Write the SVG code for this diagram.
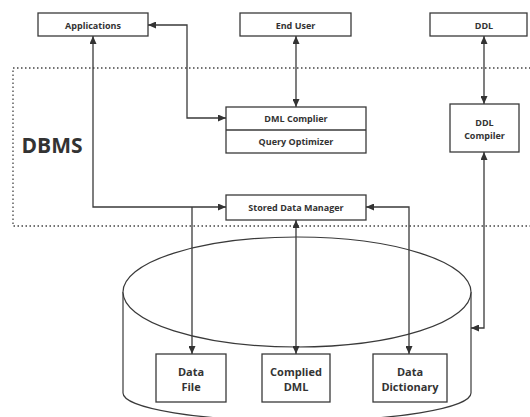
<svg xmlns="http://www.w3.org/2000/svg" width="530" height="417" viewBox="0 0 530 417">
<style>
.box{fill:#fff;stroke:#3a3a3a;stroke-width:1.3}
.t{font-family:"Open Sans","Noto Sans",sans-serif;font-weight:bold;fill:#333;text-anchor:middle;dominant-baseline:central}
.s{font-size:9px}
.m{font-size:11px}
.c{fill:none;stroke:#3a3a3a;stroke-width:1.3}
.cyl{fill:#fff;stroke:#3a3a3a;stroke-width:1.2}
</style>
<defs>
<marker id="ah" viewBox="0 0 8 7" refX="8" refY="3.5" markerWidth="8" markerHeight="7" markerUnits="userSpaceOnUse" orient="auto-start-reverse">
<path d="M0,0 L8,3.5 L0,7 z" fill="#333"/>
</marker>
</defs>
<rect x="13" y="68" width="530" height="158" fill="none" stroke="#444" stroke-width="1.3" stroke-dasharray="1.5,2.5"/>
<text class="t" x="52" y="145" style="font-size:21px">DBMS</text>
<g id="database">
<path class="cyl" d="M123,292 V393 A174,28 0 0 0 471,393 V292"/>
<ellipse class="cyl" cx="297" cy="292" rx="174" ry="55"/>
</g>
<g id="applications"><rect class="box" x="38" y="13" width="110" height="23"/><text class="t s" x="93" y="25">Applications</text></g>
<g id="enduser"><rect class="box" x="240" y="13" width="111" height="23"/><text class="t s" x="295.5" y="25">End User</text></g>
<g id="ddl"><rect class="box" x="430" y="13" width="97" height="23"/><text class="t s" x="484" y="25">DDL</text></g>
<g id="dmlcompiler"><rect class="box" x="226" y="107" width="140" height="46"/><line class="c" x1="226" y1="130" x2="366" y2="130"/><text class="t s" x="296" y="118.5">DML Complier</text><text class="t s" x="296" y="141.5">Query Optimizer</text></g>
<g id="ddlcompiler"><rect class="box" x="450" y="104" width="69" height="48"/><text class="t s" x="484.5" y="122">DDL</text><text class="t s" x="484.5" y="135">Compiler</text></g>
<g id="storeddatamanager"><rect class="box" x="226" y="195" width="140" height="25"/><text class="t s" x="296" y="207.5">Stored Data Manager</text></g>
<g id="datafile"><rect class="box" x="156" y="354" width="70" height="48"/><text class="t m" x="191" y="371">Data</text><text class="t m" x="191" y="386">File</text></g>
<g id="compliedDML"><rect class="box" x="262" y="354" width="68" height="48"/><text class="t m" x="296" y="371">Complied</text><text class="t m" x="296" y="386">DML</text></g>
<g id="datadictionary"><rect class="box" x="373" y="354" width="74" height="48"/><text class="t m" x="410" y="371">Data</text><text class="t m" x="410" y="386">Dictionary</text></g>
<g id="connectors">
<path class="c" d="M148,25 H187 V118 H226" marker-start="url(#ah)" marker-end="url(#ah)"/>
<path class="c" d="M296,36 V107" marker-start="url(#ah)" marker-end="url(#ah)"/>
<path class="c" d="M484,36 V104" marker-start="url(#ah)" marker-end="url(#ah)"/>
<path class="c" d="M93,36 V207 H226" marker-start="url(#ah)" marker-end="url(#ah)"/>
<path class="c" d="M192,207 V354" marker-end="url(#ah)"/>
<path class="c" d="M296,220 V354" marker-start="url(#ah)" marker-end="url(#ah)"/>
<path class="c" d="M366,207 H409 V354" marker-start="url(#ah)" marker-end="url(#ah)"/>
<path class="c" d="M484,152 V328 H471" marker-start="url(#ah)" marker-end="url(#ah)"/>
</g>
</svg>
